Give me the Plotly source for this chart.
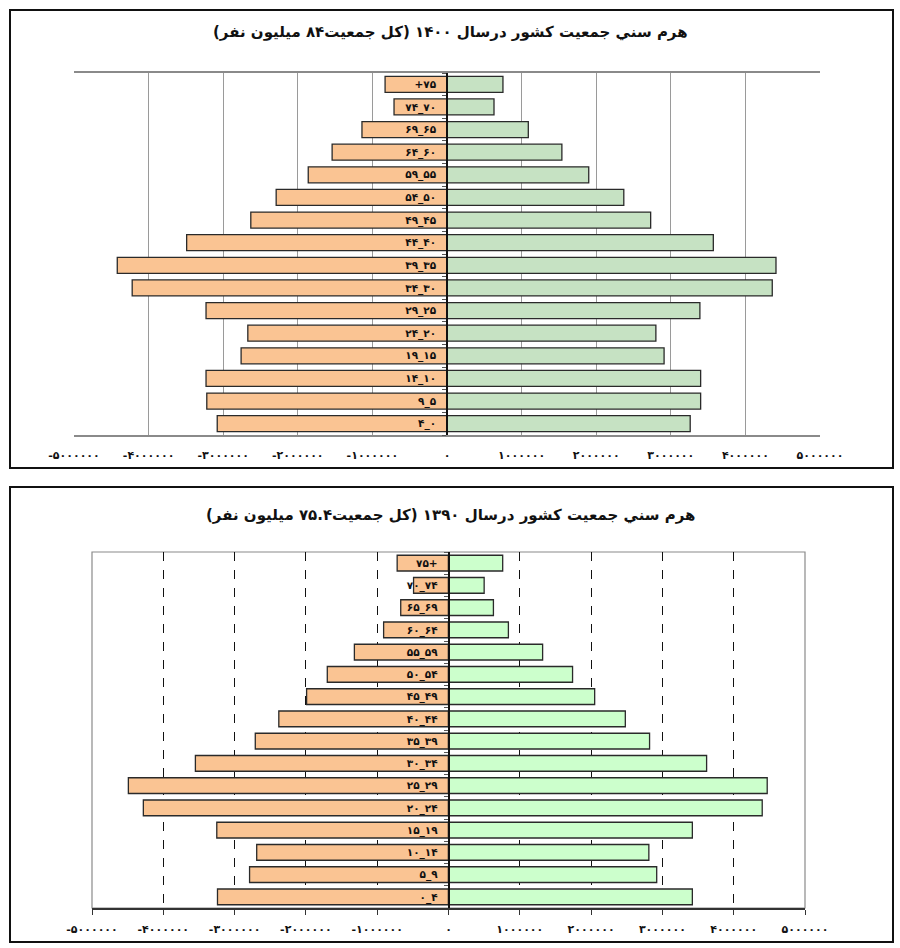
import plotly.graph_objects as go

# ---------------- data ----------------
ages_1400 = ["+۷۵", "۷۴_۷۰", "۶۹_۶۵", "۶۴_۶۰", "۵۹_۵۵", "۵۴_۵۰", "۴۹_۴۵", "۴۴_۴۰",
             "۳۹_۳۵", "۳۴_۳۰", "۲۹_۲۵", "۲۴_۲۰", "۱۹_۱۵", "۱۴_۱۰", "۹_۵", "۴_۰"]
left_1400 = [830000, 710000, 1140000, 1540000, 1860000, 2290000, 2630000, 3490000,
             4420000, 4220000, 3230000, 2670000, 2760000, 3230000, 3220000, 3080000]
right_1400 = [750000, 630000, 1090000, 1540000, 1900000, 2370000, 2730000, 3570000,
              4410000, 4360000, 3390000, 2800000, 2910000, 3400000, 3400000, 3260000]

ages_1390 = ["۷۵+", "۷۰_۷۴", "۶۵_۶۹", "۶۰_۶۴", "۵۵_۵۹", "۵۰_۵۴", "۴۵_۴۹", "۴۰_۴۴",
             "۳۵_۳۹", "۳۰_۳۴", "۲۵_۲۹", "۲۰_۲۴", "۱۵_۱۹", "۱۰_۱۴", "۵_۹", "۰_۴"]
left_1390 = [720000, 490000, 670000, 910000, 1320000, 1700000, 1990000, 2380000,
             2710000, 3550000, 4490000, 4280000, 3250000, 2690000, 2790000, 3240000]
right_1390 = [760000, 500000, 630000, 840000, 1320000, 1740000, 2050000, 2480000,
              2820000, 3620000, 4470000, 4400000, 3420000, 2810000, 2920000, 3420000]

tick_vals = [-5000000, -4000000, -3000000, -2000000, -1000000, 0,
             1000000, 2000000, 3000000, 4000000, 5000000]
tick_text = ["-۵۰۰۰۰۰۰", "-۴۰۰۰۰۰۰", "-۳۰۰۰۰۰۰", "-۲۰۰۰۰۰۰", "-۱۰۰۰۰۰۰", "۰",
             "۱۰۰۰۰۰۰", "۲۰۰۰۰۰۰", "۳۰۰۰۰۰۰", "۴۰۰۰۰۰۰", "۵۰۰۰۰۰۰"]

title_1400 = "هرم سني جمعيت كشور درسال ۱۴۰۰ (كل جمعيت۸۴ ميليون نفر)"
title_1390 = "هرم سني جمعيت كشور درسال ۱۳۹۰ (كل جمعيت۷۵.۴ ميليون نفر)"

# ---------------- figure ----------------
W, H = 900, 948
FONT = "DejaVu Sans"

def px_x(x):
    return x / W

def px_y(y):
    return 1 - y / H

orange = "#FAC493"
green_top = "#C6E2C3"
green_bot = "#CCFFCC"
outline = "#2a2a2a"

fig = go.Figure()

fig.add_trace(go.Bar(y=ages_1400, x=[-v for v in left_1400], orientation="h",
                     marker=dict(color=orange, line=dict(color=outline, width=1.3)),
                     xaxis="x", yaxis="y", showlegend=False, hoverinfo="skip"))
fig.add_trace(go.Bar(y=ages_1400, x=right_1400, orientation="h",
                     marker=dict(color=green_top, line=dict(color=outline, width=1.3)),
                     xaxis="x", yaxis="y", showlegend=False, hoverinfo="skip"))
fig.add_trace(go.Bar(y=ages_1390, x=[-v for v in left_1390], orientation="h",
                     marker=dict(color=orange, line=dict(color=outline, width=1.3)),
                     xaxis="x2", yaxis="y2", showlegend=False, hoverinfo="skip"))
fig.add_trace(go.Bar(y=ages_1390, x=right_1390, orientation="h",
                     marker=dict(color=green_bot, line=dict(color=outline, width=1.3)),
                     xaxis="x2", yaxis="y2", showlegend=False, hoverinfo="skip"))

# top plot area (pixels)
t_x0, t_x1, t_y0, t_y1 = 74, 820, 73, 435
# bottom plot area (pixels)
b_x0, b_x1, b_y0, b_y1 = 92, 805, 552, 908

tickfont = dict(family=FONT, size=11, color="#111")
labfont = dict(family=FONT, size=10.5, color="#111")
tick_text_b = ["<b>" + t + "</b>" for t in tick_text]
lab_1400 = ["<b>" + a + "</b>" for a in ages_1400]
lab_1390 = ["<b>" + a + "</b>" for a in ages_1390]

fig.update_layout(
    template="none",
    width=W, height=H,
    margin=dict(l=0, r=0, t=0, b=0, autoexpand=False),
    paper_bgcolor="white", plot_bgcolor="white",
    barmode="relative", bargap=0.29,
    xaxis=dict(domain=[px_x(t_x0), px_x(t_x1)], range=[-5000000, 5000000],
               tickvals=tick_vals, ticktext=tick_text_b, tickfont=tickfont,
               showgrid=True, gridcolor="#9a9a9a", gridwidth=1,
               zeroline=False, showline=True, linecolor="#8a8a8a", linewidth=1.5,
               mirror=True, ticks="", ticklabelstandoff=9, anchor="y",
               automargin=False, fixedrange=True),
    yaxis=dict(domain=[px_y(t_y1), px_y(t_y0)], type="category", autorange="reversed",
               anchor="free", position=px_x((t_x0 + t_x1) / 2),
               tickmode="array", tickvals=ages_1400, ticktext=lab_1400,
               showline=True, linecolor="#111", linewidth=1.5,
               ticks="outside", ticklen=4, tickcolor="#555", tickson="boundaries",
               tickfont=labfont, showgrid=False, zeroline=False, ticklabelstandoff=8,
               automargin=False, fixedrange=True),
    xaxis2=dict(domain=[px_x(b_x0), px_x(b_x1)], range=[-5000000, 5000000],
                tickvals=tick_vals, ticktext=tick_text_b, tickfont=tickfont,
                showgrid=True, gridcolor="#111", gridwidth=1, griddash="dash",
                zeroline=False, showline=True, linecolor="#333", linewidth=1.5,
                ticks="outside", ticklen=5, tickcolor="#333", ticklabelstandoff=5,
                anchor="y2", automargin=False, fixedrange=True),
    yaxis2=dict(domain=[px_y(b_y1), px_y(b_y0)], type="category", autorange="reversed",
                anchor="free", position=px_x((b_x0 + b_x1) / 2),
                tickmode="array", tickvals=ages_1390, ticktext=lab_1390,
                showline=True, linecolor="#111", linewidth=1.5,
                ticks="outside", ticklen=4, tickcolor="#555", tickson="boundaries",
                tickfont=labfont, showgrid=False, zeroline=False, ticklabelstandoff=8,
                automargin=False, fixedrange=True),
)

shapes = []
# outer frames
for (y0, y1) in [(10, 468), (487, 942)]:
    shapes.append(dict(type="rect", xref="paper", yref="paper",
                       x0=px_x(10), x1=px_x(893), y0=px_y(y1), y1=px_y(y0),
                       line=dict(color="#111", width=2), fillcolor="rgba(0,0,0,0)",
                       layer="above"))
# bottom plot frame (gray)
shapes.append(dict(type="rect", xref="paper", yref="paper",
                   x0=px_x(b_x0), x1=px_x(b_x1), y0=px_y(b_y1), y1=px_y(b_y0),
                   line=dict(color="#8a8a8a", width=1.2), fillcolor="rgba(0,0,0,0)",
                   layer="below"))
fig.update_layout(shapes=shapes)

RLM = "\u200f"
fig.add_annotation(text="<b>" + RLM + title_1400 + RLM + "</b>", xref="paper", yref="paper",
                   x=px_x(450), y=px_y(32), showarrow=False,
                   font=dict(family=FONT, size=15, color="#111"),
                   xanchor="center", yanchor="middle")
fig.add_annotation(text="<b>" + RLM + title_1390 + RLM + "</b>", xref="paper", yref="paper",
                   x=px_x(450), y=px_y(515), showarrow=False,
                   font=dict(family=FONT, size=15, color="#111"),
                   xanchor="center", yanchor="middle")

fig.write_html("out.html")
